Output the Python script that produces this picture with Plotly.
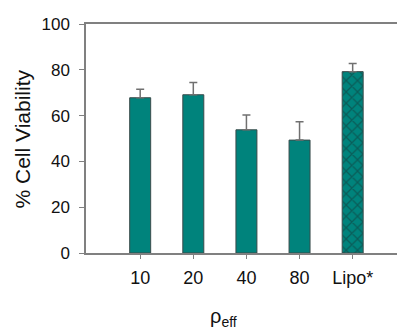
import plotly.graph_objects as go

categories = ["10", "20", "40", "80", "Lipo*"]
viability = [67.8, 69.1, 53.8, 49.3, 79.2]
error_up = [3.7, 5.3, 6.5, 8.0, 3.6]
y_ticks = [0, 20, 40, 60, 80, 100]

TEAL = "#00837c"
FONT = "Liberation Sans, Arial, sans-serif"

fig = go.Figure()
fig.add_trace(go.Bar(
    x=categories,
    y=viability,
    marker=dict(
        color=TEAL,
        line=dict(color="#3a4a4a", width=1),
        pattern=dict(
            shape=["", "", "", "", "x"],
            fgcolor="#143836",
            bgcolor=TEAL,
            size=8,
            solidity=0.3,
        ),
    ),
    error_y=dict(
        type="data",
        symmetric=False,
        array=error_up,
        arrayminus=[0] * len(error_up),
        color="#707070",
        thickness=1.5,
        width=4,
    ),
    showlegend=False,
))

# page body has an 8px margin, so the figure is shifted by 8px
fig.update_layout(
    width=397,
    height=321,
    margin=dict(l=78, r=0, t=16, b=76, autoexpand=False),
    paper_bgcolor="white",
    plot_bgcolor="white",
    bargap=0.605,
    font=dict(family=FONT, color="#111111"),
    xaxis=dict(
        type="category",
        range=[-1.02, 4.985],
        showline=True,
        linecolor="#808080",
        linewidth=1.5,
        mirror=True,
        ticks="outside",
        ticklen=4,
        tickcolor="#808080",
        tickfont=dict(size=18, family=FONT, color="#111111"),
        ticklabelstandoff=4,
        showgrid=False,
        zeroline=False,
    ),
    yaxis=dict(
        range=[0, 100],
        tickvals=y_ticks,
        showline=True,
        linecolor="#808080",
        linewidth=1.5,
        ticks="outside",
        ticklen=5,
        tickcolor="#808080",
        tickfont=dict(size=17, family=FONT, color="#111111"),
        ticklabelstandoff=6,
        showgrid=False,
        zeroline=False,
    ),
    annotations=[
        dict(
            text="% Cell Viability",
            textangle=-90,
            xref="paper", yref="paper",
            x=-0.1975, y=0.5,
            xanchor="center", yanchor="middle",
            showarrow=False,
            font=dict(size=21, family=FONT, color="#111111"),
        ),
        dict(
            text="ρ<sub>eff</sub>",
            xref="paper", yref="paper",
            x=0.382, y=-0.283,
            xanchor="left", yanchor="middle",
            showarrow=False,
            font=dict(size=20, family=FONT, color="#111111"),
        ),
    ],
)

fig.write_html("out.html")
